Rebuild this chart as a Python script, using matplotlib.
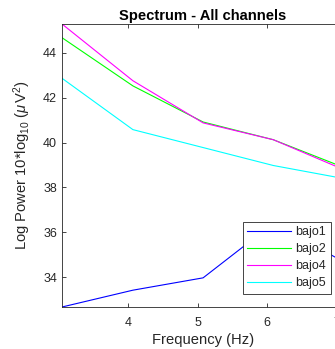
import numpy as np
import matplotlib
matplotlib.use('Agg')
import matplotlib.pyplot as plt

plt.rcParams['font.family'] = ['Liberation Sans', 'DejaVu Sans']
plt.rcParams['mathtext.fontset'] = 'custom'
plt.rcParams['mathtext.rm'] = 'Liberation Sans'
plt.rcParams['mathtext.it'] = 'Liberation Sans:italic'

freqs = [3.05, 4.07, 5.08, 6.09, 7.10]
bajo1 = [32.67, 33.42, 33.97, 36.40, 34.69]
bajo2 = [44.68, 42.53, 40.92, 40.13, 38.90]
bajo4 = [45.29, 42.76, 40.88, 40.13, 38.80]
bajo5 = [42.87, 40.58, 39.78, 38.98, 38.40]

labels = ['bajo1', 'bajo2', 'bajo4', 'bajo5']
colors = ['#0000ff', '#00ff00', '#ff00ff', '#00ffff']
txt = '#262626'

fig = plt.figure(figsize=(3.35, 3.49), dpi=100)
ax = fig.add_axes([62 / 335, 42 / 349, 281.5 / 335, 283 / 349])

for y, lab, c in zip([bajo1, bajo2, bajo4, bajo5], labels, colors):
    ax.plot(freqs, y, color=c, lw=0.8, label=lab)

ax.set_xlim(3.05, 7.10)
ax.set_ylim(32.67, 45.29)
ax.set_xticks([4, 5, 6, 7])
ax.set_yticks([34, 36, 38, 40, 42, 44])
ax.tick_params(direction='in', length=3, width=0.6, colors=txt, labelsize=9,
               top=True, labeltop=False)
ax.tick_params(axis='x', pad=7)
for s in ax.spines.values():
    s.set_color(txt)
    s.set_linewidth(0.6)

ax.set_title('Spectrum - All channels', fontsize=10.6, fontweight='bold', color='black', pad=3)
ax.set_xlabel('Frequency (Hz)', fontsize=10.6, color=txt, labelpad=3)
ax.set_ylabel(r'Log Power 10*log$_{10}$ ($\mu\,$V$^2$)', fontsize=10.6, color=txt, labelpad=7)

# legende
leg = ax.legend(loc='upper left', bbox_to_anchor=(243 / 335, 1 - 222 / 349),
                bbox_transform=fig.transFigure, fontsize=9, handlelength=3.5,
                frameon=True, fancybox=False, borderpad=0.35, labelspacing=0.4,
                handletextpad=0.35, borderaxespad=0)
leg.get_frame().set_edgecolor(txt)
leg.get_frame().set_linewidth(0.6)
leg.get_frame().set_alpha(1)
for t in leg.get_texts():
    t.set_color(txt)

fig.savefig('out.png', dpi=100)
